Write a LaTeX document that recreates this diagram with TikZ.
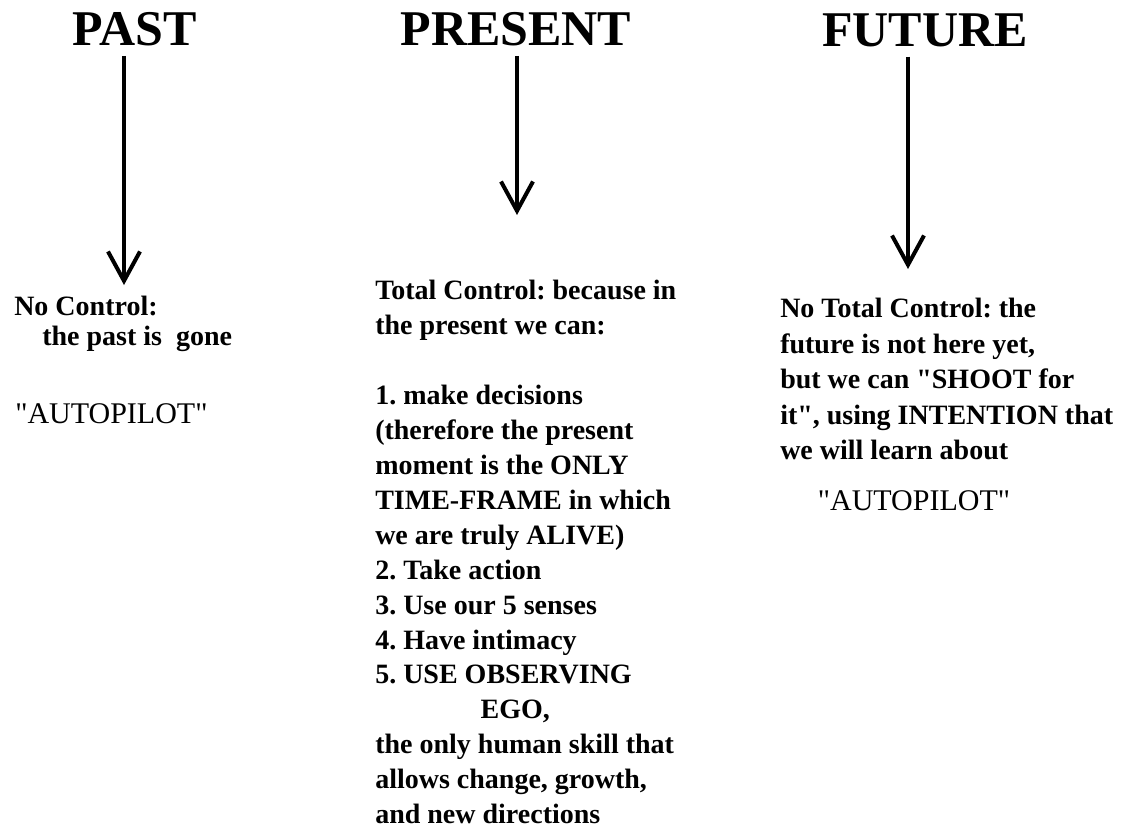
\documentclass[tikz,border=0pt]{standalone}
\usepackage{fontspec}
\setmainfont{Liberation Serif}
\usetikzlibrary{arrows.meta}
\frenchspacing

\begin{document}
\begin{tikzpicture}
  [x=0.75pt,y=-0.75pt,
   head/.style={font=\fontsize{37.5}{40}\selectfont\bfseries,inner sep=0pt,anchor=base},
   body/.style={font=\fontsize{21}{26.2}\selectfont\bfseries,inner sep=0pt,anchor=north west,align=left},
   quote/.style={font=\fontsize{22.5}{26}\selectfont,inner sep=0pt,anchor=north west},
   flow/.style={line width=3pt,-{Straight Barb[length=22pt,width=24pt]}}]
  \useasboundingbox (0,0) rectangle (1121,833);

  \node[head] (past) at (135,45) {PAST};
  \node[head] (present) at (516,45) {PRESENT};
  \node[head] (future) at (925,46) {FUTURE};

  \coordinate (pastend) at (124,285);
  \coordinate (presentend) at (517,215);
  \coordinate (futureend) at (908,269);

  % past
  \node[body,font=\fontsize{21}{22.5}\selectfont\bfseries] (pastnote) at (14,296)
    {No Control:\\\hspace*{21pt}the past is\ \ gone};
  \node[quote] (pastauto) at (15,403) {\textquotedbl AUTOPILOT\textquotedbl};

  % present
  \node[body] (presentnote) at (375,280)
    {Total Control: because in\\
     the present we can:\\[26.2pt]
     1. make decisions\\
     (therefore the present\\
     moment is the ONLY\\
     TIME-FRAME in which\\
     we are truly ALIVE)\\
     2. Take action\\
     3. Use our 5 senses\\
     4. Have intimacy\\
     5. USE OBSERVING\\
     \hspace*{79pt}EGO,\\
     the only human skill that\\
     allows change, growth,\\
     and new directions};

  % future
  \node[body,font=\fontsize{21}{26.6}\selectfont\bfseries] (futurenote) at (780,298)
    {No Total Control: the\\
     future is not here yet,\\
     but we can \textquotedbl SHOOT for\\
     it\textquotedbl, using INTENTION that\\
     we will learn about};
  \node[quote,anchor=north] (futureauto) at (914,490) {\textquotedbl AUTOPILOT\textquotedbl};

  \foreach \from/\to in {past/pastend,present/presentend,future/futureend}
    \draw[flow] (\from.south -| \to) ++(0,10) -- (\to);

\end{tikzpicture}
\end{document}
